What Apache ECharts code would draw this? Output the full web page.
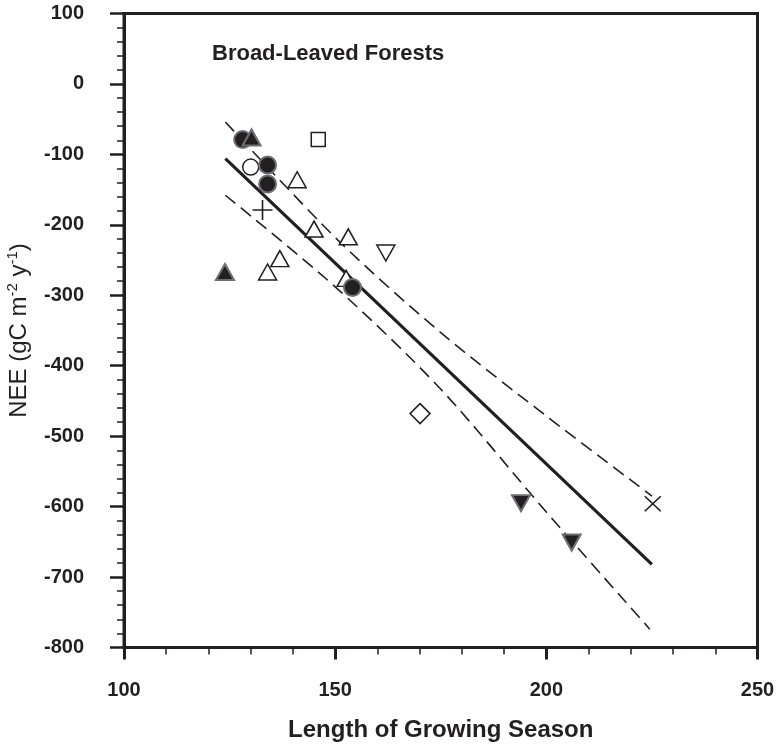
<!DOCTYPE html>
<html>
<head>
<meta charset="utf-8">
<script src="https://cdn.jsdelivr.net/npm/echarts@6/dist/echarts.min.js"></script>
<style>
  html, body { margin: 0; padding: 0; background: #ffffff; }
  #chart { width: 776px; height: 745px; }
</style>
</head>
<body>
<div id="chart"></div>
<script>
// Axis ranges and tick spacing
const xRange = [100, 250];
const xStep = 50;
const yRange = [-800, 100];
const yStep = 100;

// Regression fit and its confidence band (length of season, NEE)
const fitLine = [[124, -106], [225, -682]];
const upperBand = [[124, -54], [150.7, -222], [174.8, -352], [199.9, -471], [225, -585]];
const lowerBand = [[124, -158], [150, -288], [174.8, -432], [199.9, -607], [224.5, -774]];

// Site observations grouped by marker style
const openUpTriangles = [[141, -136], [145, -206], [153.1, -217], [136.9, -248], [134, -267], [152.6, -276]];
const openDownTriangles = [[162, -240]];
const openCircles = [[130, -118]];
const filledCircles = [[128.1, -79], [134, -115], [134, -142], [154.1, -289]];
const filledUpTriangles = [[130.2, -76], [123.9, -267]];
const filledDownTriangles = [[194, -595], [206, -651]];
const openSquares = [[146, -79]];
const openDiamonds = [[170.1, -468]];
const plusMarks = [[132.8, -179]];
const crossMarks = [[225.2, -596]];

const INK = '#231f20';
const FILL_EDGE = '#6d6e71';
const FONT = "'Liberation Sans', Arial, Helvetica, sans-serif";

const openStyle = { color: '#ffffff', borderColor: INK, borderWidth: 1.5, opacity: 1 };
const filledStyle = { color: INK, borderColor: FILL_EDGE, borderWidth: 2, opacity: 1 };
const strokeOnly = { color: 'transparent', borderColor: INK, borderWidth: 1.6, opacity: 1 };

function scatter(data, symbol, size, style, z) {
  return {
    type: 'scatter', data: data, symbol: symbol, symbolSize: size,
    itemStyle: style, z: z, silent: true
  };
}

function band(data) {
  return {
    type: 'line', data: data, showSymbol: false, smooth: 0.3, z: 2,
    lineStyle: { color: INK, width: 1.6, type: [13, 7] }, silent: true
  };
}

const chart = echarts.init(document.getElementById('chart'), null, { renderer: 'canvas' });

chart.setOption({
  animation: false,
  backgroundColor: '#ffffff',
  grid: {
    left: 124, right: 18.5, top: 13.5, bottom: 97.5,
    containLabel: false, outerBoundsMode: 'none',
    show: true, borderColor: INK, borderWidth: 3, backgroundColor: 'transparent'
  },
  xAxis: {
    type: 'value', min: xRange[0], max: xRange[1], interval: xStep,
    name: 'Length of Growing Season', nameLocation: 'middle', nameGap: 71,
    nameTextStyle: { color: INK, fontSize: 24, fontWeight: 'bold', fontFamily: FONT },
    axisLine: { onZero: false, lineStyle: { color: INK, width: 3 } },
    axisTick: { show: true, inside: false, length: 12, lineStyle: { color: INK, width: 3 } },
    minorTick: { show: true, splitNumber: 5, length: 7, lineStyle: { color: INK, width: 1.5 } },
    splitLine: { show: false },
    axisLabel: { color: INK, fontSize: 20, fontWeight: 'bold', fontFamily: FONT, margin: 33 }
  },
  yAxis: {
    type: 'value', min: yRange[0], max: yRange[1], interval: yStep,
    name: '{a|NEE (gC m}{s|-2}{a| y}{s|-1}{a|)}',
    nameLocation: 'middle', nameGap: 93, nameRotate: 90,
    nameTextStyle: {
      color: INK, fontFamily: FONT,
      rich: {
        a: { fontSize: 24, lineHeight: 28, color: INK, fontFamily: FONT, verticalAlign: 'bottom' },
        s: { fontSize: 15, lineHeight: 28, color: INK, fontFamily: FONT, verticalAlign: 'top', padding: [2, 0, 0, 0] }
      }
    },
    axisLine: { onZero: false, lineStyle: { color: INK, width: 3 } },
    axisTick: { show: true, inside: false, length: 14, lineStyle: { color: INK, width: 2.5 } },
    minorTick: { show: true, splitNumber: 5, length: 7, lineStyle: { color: INK, width: 1.5 } },
    splitLine: { show: false },
    axisLabel: { color: INK, fontSize: 20, fontWeight: 'bold', fontFamily: FONT, margin: 40 }
  },
  graphic: [{
    type: 'text', left: 212, top: 43, silent: true,
    style: { text: 'Broad-Leaved Forests', fill: INK, font: 'bold 22px ' + FONT }
  }],
  series: [
    band(upperBand),
    band(lowerBand),
    {
      type: 'line', data: fitLine, showSymbol: false, z: 3, silent: true,
      lineStyle: { color: INK, width: 3.2 }
    },
    scatter(openUpTriangles, 'triangle', [18, 16], openStyle, 4),
    scatter(openDownTriangles, 'path://M0,0 L20,0 L10,18 Z', [18, 16], openStyle, 4),
    scatter(openCircles, 'circle', 16, openStyle, 4),
    scatter(openSquares, 'rect', 14, openStyle, 4),
    scatter(openDiamonds, 'diamond', [20, 20], openStyle, 4),
    scatter(plusMarks, 'path://M10,0 L10,20 M0,10 L20,10', [20, 20], strokeOnly, 4),
    scatter(crossMarks, 'path://M0,0 L16,16 M0,16 L16,0', [16, 15], strokeOnly, 4),
    scatter(filledCircles, 'circle', 17, filledStyle, 5),
    scatter(filledUpTriangles, 'triangle', [18, 16], filledStyle, 6),
    scatter(filledDownTriangles, 'path://M0,0 L20,0 L10,18 Z', [18, 16], filledStyle, 6)
  ]
});
</script>
</body>
</html>
